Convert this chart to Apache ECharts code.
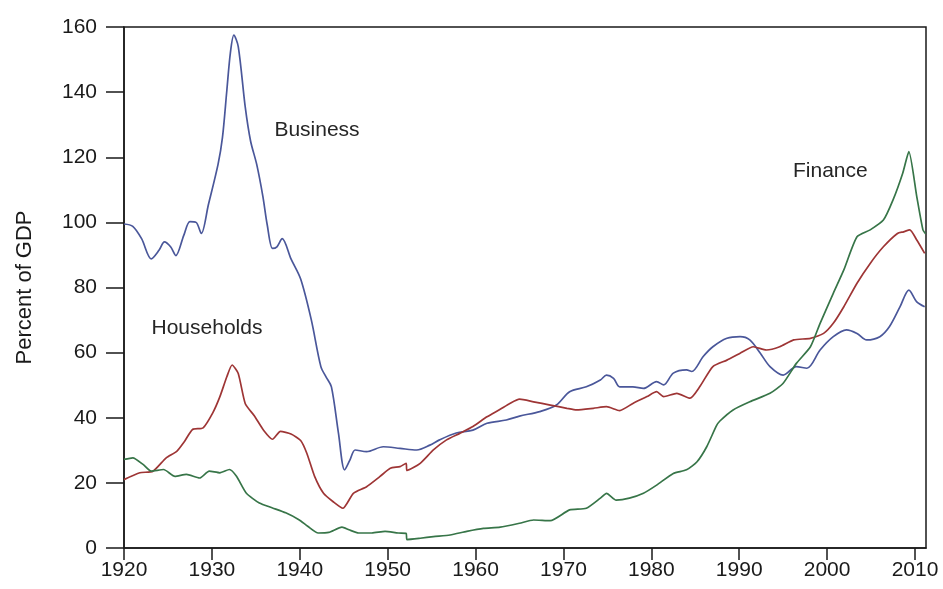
<!DOCTYPE html>
<html>
<head>
<meta charset="utf-8">
<script src="https://cdn.jsdelivr.net/npm/echarts@6/dist/echarts.min.js"></script>
<style>
html,body{margin:0;padding:0;background:#fff;}
#chart{width:943px;height:589px;}
</style>
</head>
<body>
<div id="chart"></div>
<script>
// [year, percent of GDP]
var business = [
  [1920.0,99.5],[1921.0,98.8],[1922.0,95],[1923.1,88.8],[1924.0,91.5],[1924.6,94],[1925.3,92.5],[1925.9,89.8],[1926.8,96],[1927.5,100.2],
  [1928.2,100],[1928.8,96.6],[1929.6,105.4],[1930.7,117.8],[1931.2,126],[1931.7,140.5],[1932.1,152],[1932.5,157.5],[1933.0,154],
  [1933.8,135.3],[1934.4,125],[1935.1,117.8],[1935.8,108],[1936.3,99.2],[1936.9,92],[1937.4,92.5],[1938.0,95],[1939.0,88.8],
  [1940.1,82.6],[1941.3,70.2],[1942.4,55.7],[1943.0,52.5],[1943.6,49.5],[1944.4,35.3],[1945.1,24],[1945.7,27],[1946.3,30.1],
  [1947.6,29.6],[1949.5,31.1],[1951.4,30.6],[1953.3,30.1],[1954.8,31.6],[1955.9,33.2],[1957.8,35.3],[1959.7,36.2],[1961.3,38.3],
  [1963.5,39.3],[1965.0,40.5],[1967.3,41.9],[1969.2,43.9],[1970.7,48],[1972.6,49.5],[1974.2,51.6],[1974.9,53.1],[1975.7,52.1],
  [1976.4,49.5],[1977.9,49.5],[1979.1,49],[1980.6,51.1],[1981.4,50.1],[1982.5,53.7],[1984.0,54.7],[1984.6,54.2],[1985.9,58.8],
  [1987.0,61.8],[1988.6,64.4],[1990.1,64.9],[1991.2,63.9],[1992.4,59.8],[1993.5,55.7],[1995.0,53.1],[1996.5,55.7],[1997.7,55.2],
  [1999.2,60.8],[2000.7,64.9],[2002.2,67],[2003.4,65.9],[2004.5,63.9],[2006.0,64.9],[2007.1,68],[2008.3,74.1],[2009.3,79.2],
  [2010.2,75.6],[2011.1,74.1]
];
var households = [
  [1920.0,21],[1921.8,23.1],[1923.3,23.6],[1924.8,27.7],[1926.0,29.7],[1926.9,32.8],[1927.8,36.4],[1929.0,36.9],[1930.1,41.5],
  [1930.9,46.4],[1931.7,52.6],[1932.3,56.2],[1933.0,53.6],[1933.8,44.3],[1934.8,40.7],[1935.9,36.1],[1936.9,33.4],[1937.8,35.8],
  [1939.0,35],[1940.1,33],[1940.8,29.1],[1941.7,21.9],[1942.7,16.8],[1943.8,14.2],[1944.9,12.2],[1946.1,16.8],[1947.6,18.8],
  [1949.1,21.9],[1950.3,24.5],[1951.4,25],[1952.1,26],[1952.2,23.8],[1953.7,26],[1955.2,30.1],[1956.7,33.2],[1958.2,35.2],
  [1959.7,37.3],[1961.3,40.3],[1962.8,42.6],[1963.9,44.4],[1965.0,45.7],[1966.6,44.9],[1968.5,43.9],[1970.4,42.9],[1971.5,42.4],
  [1973.4,42.9],[1974.9,43.4],[1976.4,42.2],[1977.9,44.4],[1979.5,46.5],[1980.6,48],[1981.4,46.5],[1982.9,47.5],[1984.4,46],
  [1985.5,49.5],[1987.0,55.7],[1988.6,57.7],[1990.1,59.8],[1991.6,61.8],[1993.1,60.8],[1994.6,61.8],[1996.2,63.9],[1998.1,64.4],
  [1999.6,65.9],[2000.7,69],[2001.9,74.1],[2003.4,81.3],[2004.9,87.4],[2006.4,92.5],[2008.0,96.6],[2008.7,97.1],[2009.4,97.7],
  [2010.2,94.6],[2011.1,90.5]
];
var finance = [
  [1920.0,27.2],[1921.0,27.7],[1922.2,25.6],[1923.1,23.6],[1924.5,24.1],[1925.8,22],[1927.1,22.6],[1928.6,21.5],[1929.7,23.6],
  [1930.9,23.1],[1932.0,24.1],[1932.8,22],[1933.9,16.9],[1935.4,13.8],[1936.9,12.3],[1938.4,10.8],[1939.9,8.7],[1940.9,6.7],
  [1942.1,4.6],[1943.3,4.8],[1944.8,6.4],[1945.6,5.6],[1946.7,4.6],[1948.2,4.6],[1949.7,5.1],[1951.2,4.6],[1952.1,4.5],
  [1952.2,2.6],[1953.7,3],[1955.2,3.5],[1957.1,4],[1959.0,5.1],[1960.9,6],[1962.8,6.4],[1965.0,7.6],[1966.6,8.6],[1968.5,8.4],
  [1970.7,11.7],[1972.6,12.2],[1974.2,15.3],[1974.9,16.8],[1976.0,14.7],[1977.5,15.3],[1979.1,16.8],[1980.6,19.3],[1982.5,22.9],
  [1984.0,24],[1985.2,26.5],[1986.3,31.1],[1987.4,37.5],[1987.8,39],[1989.3,42.4],[1991.2,44.9],[1993.5,47.5],[1995.0,50.6],
  [1996.5,56.7],[1998.1,61.8],[1999.2,69],[2000.7,78.2],[2001.9,85.4],[2003.4,95.6],[2004.9,97.7],[2006.4,100.7],[2007.5,106.9],
  [2008.6,115.1],[2009.3,121.7],[2010.2,107.9],[2010.9,97.7],[2011.2,96.5]
];
var xTicks = [1920,1930,1940,1950,1960,1970,1980,1990,2000,2010];
var annotationNames = ['Business','Finance','Households'];
var annotationPos = [[1941.96,128.4],[2000.37,115.6],[1929.44,67.4]];

var FONT = '"Liberation Sans", Arial, sans-serif';
var chart = echarts.init(document.getElementById('chart'), null, {renderer:'canvas'});
chart.setOption({
  backgroundColor:'#fff',
  animation:false,
  grid:{left:124,right:17,top:27,bottom:41,show:true,borderColor:'#1a1a1a',borderWidth:1.5,backgroundColor:'transparent'},
  xAxis:{
    type:'value',min:1920,max:2011.25,
    axisLine:{show:true,onZero:false,lineStyle:{color:'#1a1a1a',width:1.5}},
    axisTick:{show:true,inside:false,length:12,lineStyle:{color:'#1a1a1a',width:1.5},customValues:xTicks},
    axisLabel:{show:true,margin:12,color:'#1a1a1a',fontSize:21,fontFamily:FONT,customValues:xTicks,formatter:function(v){return String(v);}},
    splitLine:{show:false}
  },
  yAxis:{
    type:'value',min:0,max:160,interval:20,
    name:'Percent of GDP',nameLocation:'middle',nameGap:88,
    nameTextStyle:{color:'#1a1a1a',fontSize:22,fontFamily:FONT},
    axisLine:{show:true,lineStyle:{color:'#1a1a1a',width:1.5}},
    axisTick:{show:true,inside:false,length:18,lineStyle:{color:'#1a1a1a',width:1.5}},
    axisLabel:{show:true,margin:27,color:'#1a1a1a',fontSize:21,fontFamily:FONT},
    splitLine:{show:false}
  },
  series:[
    {name:'Business',type:'line',data:business,showSymbol:false,smooth:0.3,lineStyle:{color:'#4a579a',width:1.7}},
    {name:'Households',type:'line',data:households,showSymbol:false,smooth:0.2,lineStyle:{color:'#9e3535',width:1.7}},
    {name:'Finance',type:'line',data:finance,showSymbol:false,smooth:0.2,lineStyle:{color:'#377548',width:1.7}}
  ]
});
var gfx = annotationNames.map(function(n, i){
  var p = chart.convertToPixel({gridIndex:0}, annotationPos[i]);
  return {type:'text', x:p[0], y:p[1], silent:true,
    style:{text:n, fill:'#262626', font:'21px ' + FONT, textAlign:'center', textVerticalAlign:'middle'}};
});
chart.setOption({graphic:gfx});
</script>
</body>
</html>
